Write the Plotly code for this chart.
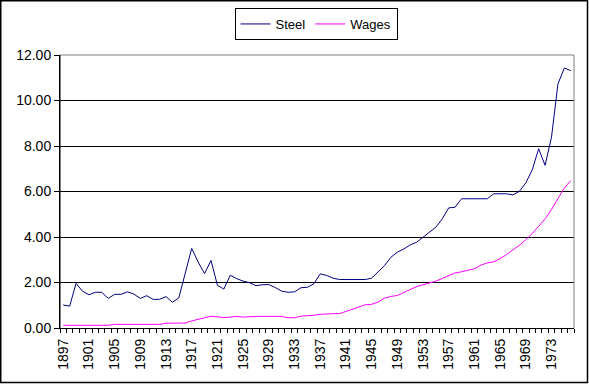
import plotly.graph_objects as go

years = list(range(1897, 1977))

steel = [1.01, 0.96, 1.96, 1.62, 1.46, 1.57, 1.57, 1.30, 1.48, 1.48,
         1.59, 1.49, 1.30, 1.42, 1.26, 1.26, 1.38, 1.13, 1.33, 2.39,
         3.50, 2.90, 2.39, 2.97, 1.88, 1.71, 2.32, 2.17, 2.06, 1.99,
         1.86, 1.90, 1.91, 1.78, 1.62, 1.57, 1.59, 1.77, 1.79, 1.94,
         2.38, 2.31, 2.19, 2.13, 2.13, 2.13, 2.13, 2.13, 2.19, 2.45,
         2.74, 3.11, 3.33, 3.47, 3.65, 3.77, 3.99, 4.22, 4.43, 4.80,
         5.28, 5.31, 5.68, 5.68, 5.68, 5.68, 5.68, 5.90, 5.90, 5.90,
         5.85, 6.01, 6.38, 6.95, 7.88, 7.15, 8.39, 10.73, 11.43, 11.31]

wages = [0.12, 0.12, 0.12, 0.12, 0.12, 0.12, 0.12, 0.12, 0.16, 0.16,
         0.16, 0.16, 0.16, 0.16, 0.16, 0.16, 0.21, 0.21, 0.21, 0.22,
         0.31, 0.37, 0.43, 0.52, 0.49, 0.46, 0.48, 0.51, 0.48, 0.51,
         0.51, 0.51, 0.51, 0.51, 0.51, 0.45, 0.45, 0.52, 0.53, 0.56,
         0.60, 0.63, 0.63, 0.63, 0.73, 0.85, 0.95, 1.02, 1.04, 1.14,
         1.31, 1.39, 1.43, 1.56, 1.72, 1.82, 1.90, 1.97, 2.06, 2.18,
         2.29, 2.42, 2.47, 2.54, 2.61, 2.76, 2.86, 2.91, 3.05, 3.23,
         3.42, 3.64, 3.88, 4.15, 4.47, 4.80, 5.21, 5.68, 6.16, 6.48]

label_years = list(range(1897, 1977, 4))
y_ticks = [0, 2, 4, 6, 8, 10, 12]

W, H = 589, 384
L, R, T, B = 60, 15, 55, 56
pw, ph = W - L - R, H - T - B

def px(xp):
    return (xp - L) / pw

def py(yp):
    return (H - B - yp) / ph

FONT = "Liberation Sans, Arial, sans-serif"

fig = go.Figure()
fig.add_trace(go.Scatter(x=years, y=steel, mode="lines", name="Steel",
                         line=dict(color="#000080", width=1)))
fig.add_trace(go.Scatter(x=years, y=wages, mode="lines", name="Wages",
                         line=dict(color="#FF00FF", width=1)))

fig.update_layout(
    width=W, height=H,
    margin=dict(l=L, r=R, t=T, b=B, pad=0, autoexpand=False),
    paper_bgcolor="white", plot_bgcolor="white",
    font=dict(family=FONT, size=14, color="black"),
    showlegend=True,
    legend=dict(orientation="h", xref="container", yref="container",
                x=316 / W, xanchor="center",
                y=1 - 8 / H, yanchor="top",
                bordercolor="black", borderwidth=1, bgcolor="white",
                font=dict(family=FONT, size=13, color="black"),
                itemwidth=30, tracegroupgap=0),
    xaxis=dict(range=[years[0] - 0.5, years[-1] + 0.5],
               tickmode="array", tickvals=label_years,
               ticktext=[str(v) for v in label_years],
               tickangle=-90, ticks="outside", ticklen=4, tickcolor="rgba(0,0,0,0)",
               showgrid=False, automargin=False,
               showline=True, linecolor="black", linewidth=1,
               zeroline=False,
               tickfont=dict(family=FONT, size=14, color="black"),
               minor=dict(tickmode="linear", tick0=years[0] - 0.5, dtick=1,
                          ticks="outside", ticklen=4, tickcolor="black",
                          tickwidth=1, showgrid=False)),
    yaxis=dict(range=[0, 12], tickmode="array", tickvals=y_ticks,
               tickformat=".2f", ticks="outside", ticklen=5,
               tickcolor="black", showgrid=True, gridcolor="black",
               gridwidth=1, showline=True, linecolor="black", linewidth=1,
               zeroline=False, automargin=False,
               tickfont=dict(family=FONT, size=14, color="black")),
)

# plot-area frame (gray top/right like Excel)
fig.add_shape(type="line", xref="paper", yref="paper", x0=0, x1=1, y0=1, y1=1,
              line=dict(color="#808080", width=1), layer="above")
fig.add_shape(type="line", xref="paper", yref="paper", x0=1, x1=1, y0=0, y1=1,
              line=dict(color="#808080", width=1), layer="above")
fig.add_shape(type="line", xref="paper", yref="paper", x0=0, x1=0, y0=0, y1=1,
              line=dict(color="black", width=1), layer="above")
# outer chart border
fig.add_shape(type="rect", xref="paper", yref="paper",
              x0=px(0.75), x1=px(587.5), y0=py(382.5), y1=py(0.75),
              line=dict(color="black", width=1.5), layer="above")

fig.write_html("out.html",
               config={"displayModeBar": False},
               post_script="document.body.style.margin='0';"
                           "document.body.style.padding='0';"
                           "document.body.style.overflow='hidden';")
